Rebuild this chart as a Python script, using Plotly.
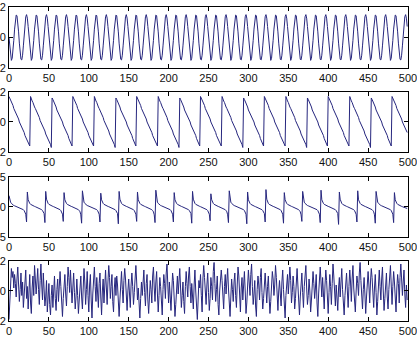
import plotly.graph_objects as go

# ---------------- data ----------------
x_vals = list(range(500))

sine_values = [
    0.00, -0.72, -1.27, -1.50, -1.36, -0.88, -0.19, 0.55, 1.16, 1.47, 1.43, 1.03, 0.37, -0.37, -1.03, -1.43, -1.47, -1.16, -0.55, 0.19, 0.88, 1.36, 1.50, 1.27, 0.72,
    0.00, -0.72, -1.27, -1.50, -1.36, -0.88, -0.19, 0.55, 1.16, 1.47, 1.43, 1.03, 0.37, -0.37, -1.03, -1.43, -1.47, -1.16, -0.55, 0.19, 0.88, 1.36, 1.50, 1.27, 0.72,
    0.00, -0.72, -1.27, -1.50, -1.36, -0.88, -0.19, 0.55, 1.16, 1.47, 1.43, 1.03, 0.37, -0.37, -1.03, -1.43, -1.47, -1.16, -0.55, 0.19, 0.88, 1.36, 1.50, 1.27, 0.72,
    0.00, -0.72, -1.27, -1.50, -1.36, -0.88, -0.19, 0.55, 1.16, 1.47, 1.43, 1.03, 0.37, -0.37, -1.03, -1.43, -1.47, -1.16, -0.55, 0.19, 0.88, 1.36, 1.50, 1.27, 0.72,
    0.00, -0.72, -1.27, -1.50, -1.36, -0.88, -0.19, 0.55, 1.16, 1.47, 1.43, 1.03, 0.37, -0.37, -1.03, -1.43, -1.47, -1.16, -0.55, 0.19, 0.88, 1.36, 1.50, 1.27, 0.72,
    0.00, -0.72, -1.27, -1.50, -1.36, -0.88, -0.19, 0.55, 1.16, 1.47, 1.43, 1.03, 0.37, -0.37, -1.03, -1.43, -1.47, -1.16, -0.55, 0.19, 0.88, 1.36, 1.50, 1.27, 0.72,
    0.00, -0.72, -1.27, -1.50, -1.36, -0.88, -0.19, 0.55, 1.16, 1.47, 1.43, 1.03, 0.37, -0.37, -1.03, -1.43, -1.47, -1.16, -0.55, 0.19, 0.88, 1.36, 1.50, 1.27, 0.72,
    0.00, -0.72, -1.27, -1.50, -1.36, -0.88, -0.19, 0.55, 1.16, 1.47, 1.43, 1.03, 0.37, -0.37, -1.03, -1.43, -1.47, -1.16, -0.55, 0.19, 0.88, 1.36, 1.50, 1.27, 0.72,
    0.00, -0.72, -1.27, -1.50, -1.36, -0.88, -0.19, 0.55, 1.16, 1.47, 1.43, 1.03, 0.37, -0.37, -1.03, -1.43, -1.47, -1.16, -0.55, 0.19, 0.88, 1.36, 1.50, 1.27, 0.72,
    0.00, -0.72, -1.27, -1.50, -1.36, -0.88, -0.19, 0.55, 1.16, 1.47, 1.43, 1.03, 0.37, -0.37, -1.03, -1.43, -1.47, -1.16, -0.55, 0.19, 0.88, 1.36, 1.50, 1.27, 0.72,
    0.00, -0.72, -1.27, -1.50, -1.36, -0.88, -0.19, 0.55, 1.16, 1.47, 1.43, 1.03, 0.37, -0.37, -1.03, -1.43, -1.47, -1.16, -0.55, 0.19, 0.88, 1.36, 1.50, 1.27, 0.72,
    0.00, -0.72, -1.27, -1.50, -1.36, -0.88, -0.19, 0.55, 1.16, 1.47, 1.43, 1.03, 0.37, -0.37, -1.03, -1.43, -1.47, -1.16, -0.55, 0.19, 0.88, 1.36, 1.50, 1.27, 0.72,
    0.00, -0.72, -1.27, -1.50, -1.36, -0.88, -0.19, 0.55, 1.16, 1.47, 1.43, 1.03, 0.37, -0.37, -1.03, -1.43, -1.47, -1.16, -0.55, 0.19, 0.88, 1.36, 1.50, 1.27, 0.72,
    0.00, -0.72, -1.27, -1.50, -1.36, -0.88, -0.19, 0.55, 1.16, 1.47, 1.43, 1.03, 0.37, -0.37, -1.03, -1.43, -1.47, -1.16, -0.55, 0.19, 0.88, 1.36, 1.50, 1.27, 0.72,
    0.00, -0.72, -1.27, -1.50, -1.36, -0.88, -0.19, 0.55, 1.16, 1.47, 1.43, 1.03, 0.37, -0.37, -1.03, -1.43, -1.47, -1.16, -0.55, 0.19, 0.88, 1.36, 1.50, 1.27, 0.72,
    0.00, -0.72, -1.27, -1.50, -1.36, -0.88, -0.19, 0.55, 1.16, 1.47, 1.43, 1.03, 0.37, -0.37, -1.03, -1.43, -1.47, -1.16, -0.55, 0.19, 0.88, 1.36, 1.50, 1.27, 0.72,
    0.00, -0.72, -1.27, -1.50, -1.36, -0.88, -0.19, 0.55, 1.16, 1.47, 1.43, 1.03, 0.37, -0.37, -1.03, -1.43, -1.47, -1.16, -0.55, 0.19, 0.88, 1.36, 1.50, 1.27, 0.72,
    0.00, -0.72, -1.27, -1.50, -1.36, -0.88, -0.19, 0.55, 1.16, 1.47, 1.43, 1.03, 0.37, -0.37, -1.03, -1.43, -1.47, -1.16, -0.55, 0.19, 0.88, 1.36, 1.50, 1.27, 0.72,
    0.00, -0.72, -1.27, -1.50, -1.36, -0.88, -0.19, 0.55, 1.16, 1.47, 1.43, 1.03, 0.37, -0.37, -1.03, -1.43, -1.47, -1.16, -0.55, 0.19, 0.88, 1.36, 1.50, 1.27, 0.72,
    0.00, -0.72, -1.27, -1.50, -1.36, -0.88, -0.19, 0.55, 1.16, 1.47, 1.43, 1.03, 0.37, -0.37, -1.03, -1.43, -1.47, -1.16, -0.55, 0.19, 0.88, 1.36, 1.50, 1.27, 0.72,
]

sawtooth_values = [
    1.7, 1.6, 1.4, 1.3, 1.2, 1.1, 0.9, 0.8, 0.7, 0.6, 0.4, 0.3, 0.2, 0.0, -0.1, -0.2, -0.3, -0.5, -0.6, -0.7, -0.9, -1.0, -1.1, -1.2, -1.4, -1.5, -1.6,
    1.7, 1.5, 1.4, 1.3, 1.1, 1.0, 0.9, 0.8, 0.6, 0.5, 0.4, 0.3, 0.1, 0.0, -0.1, -0.3, -0.4, -0.5, -0.6, -0.8, -0.9, -1.0, -1.1, -1.3, -1.4, -1.5, -1.7,
    1.6, 1.5, 1.4, 1.2, 1.1, 1.0, 0.8, 0.7, 0.6, 0.5, 0.3, 0.2, 0.1, 0.0, -0.2, -0.3, -0.4, -0.6, -0.7, -0.8, -0.9, -1.1, -1.2, -1.3, -1.4, -1.6,
    1.7, 1.6, 1.4, 1.3, 1.2, 1.1, 0.9, 0.8, 0.7, 0.6, 0.4, 0.3, 0.2, 0.0, -0.1, -0.2, -0.3, -0.5, -0.6, -0.7, -0.9, -1.0, -1.1, -1.2, -1.4, -1.5, -1.6,
    1.7, 1.5, 1.4, 1.3, 1.1, 1.0, 0.9, 0.8, 0.6, 0.5, 0.4, 0.3, 0.1, 0.0, -0.1, -0.3, -0.4, -0.5, -0.6, -0.8, -0.9, -1.0, -1.1, -1.3, -1.4, -1.5, -1.7,
    1.6, 1.5, 1.4, 1.2, 1.1, 1.0, 0.8, 0.7, 0.6, 0.5, 0.3, 0.2, 0.1, 0.0, -0.2, -0.3, -0.4, -0.6, -0.7, -0.8, -0.9, -1.1, -1.2, -1.3, -1.4, -1.6,
    1.7, 1.6, 1.4, 1.3, 1.2, 1.1, 0.9, 0.8, 0.7, 0.6, 0.4, 0.3, 0.2, 0.0, -0.1, -0.2, -0.3, -0.5, -0.6, -0.7, -0.9, -1.0, -1.1, -1.2, -1.4, -1.5, -1.6,
    1.7, 1.5, 1.4, 1.3, 1.1, 1.0, 0.9, 0.8, 0.6, 0.5, 0.4, 0.3, 0.1, 0.0, -0.1, -0.3, -0.4, -0.5, -0.6, -0.8, -0.9, -1.0, -1.1, -1.3, -1.4, -1.5, -1.7,
    1.6, 1.5, 1.4, 1.2, 1.1, 1.0, 0.8, 0.7, 0.6, 0.5, 0.3, 0.2, 0.1, 0.0, -0.2, -0.3, -0.4, -0.6, -0.7, -0.8, -0.9, -1.1, -1.2, -1.3, -1.4, -1.6,
    1.7, 1.6, 1.4, 1.3, 1.2, 1.1, 0.9, 0.8, 0.7, 0.6, 0.4, 0.3, 0.2, 0.0, -0.1, -0.2, -0.3, -0.5, -0.6, -0.7, -0.9, -1.0, -1.1, -1.2, -1.4, -1.5, -1.6,
    1.7, 1.5, 1.4, 1.3, 1.1, 1.0, 0.9, 0.8, 0.6, 0.5, 0.4, 0.3, 0.1, 0.0, -0.1, -0.3, -0.4, -0.5, -0.6, -0.8, -0.9, -1.0, -1.1, -1.3, -1.4, -1.5, -1.7,
    1.6, 1.5, 1.4, 1.2, 1.1, 1.0, 0.8, 0.7, 0.6, 0.5, 0.3, 0.2, 0.1, 0.0, -0.2, -0.3, -0.4, -0.6, -0.7, -0.8, -0.9, -1.1, -1.2, -1.3, -1.4, -1.6,
    1.7, 1.6, 1.4, 1.3, 1.2, 1.1, 0.9, 0.8, 0.7, 0.6, 0.4, 0.3, 0.2, 0.0, -0.1, -0.2, -0.3, -0.5, -0.6, -0.7, -0.9, -1.0, -1.1, -1.2, -1.4, -1.5, -1.6,
    1.7, 1.5, 1.4, 1.3, 1.1, 1.0, 0.9, 0.8, 0.6, 0.5, 0.4, 0.3, 0.1, 0.0, -0.1, -0.3, -0.4, -0.5, -0.6, -0.8, -0.9, -1.0, -1.1, -1.3, -1.4, -1.5, -1.7,
    1.6, 1.5, 1.4, 1.2, 1.1, 1.0, 0.8, 0.7, 0.6, 0.5, 0.3, 0.2, 0.1, 0.0, -0.2, -0.3, -0.4, -0.6, -0.7, -0.8, -0.9, -1.1, -1.2, -1.3, -1.4, -1.6,
    1.7, 1.6, 1.4, 1.3, 1.2, 1.1, 0.9, 0.8, 0.7, 0.6, 0.4, 0.3, 0.2, 0.0, -0.1, -0.2, -0.3, -0.5, -0.6, -0.7, -0.9, -1.0, -1.1, -1.2, -1.4, -1.5, -1.6,
    1.7, 1.5, 1.4, 1.3, 1.1, 1.0, 0.9, 0.8, 0.6, 0.5, 0.4, 0.3, 0.1, 0.0, -0.1, -0.3, -0.4, -0.5, -0.6, -0.8, -0.9, -1.0, -1.1, -1.3, -1.4, -1.5, -1.7,
    1.6, 1.5, 1.4, 1.2, 1.1, 1.0, 0.8, 0.7, 0.6, 0.5, 0.3, 0.2, 0.1, 0.0, -0.2, -0.3, -0.4, -0.6, -0.7, -0.8, -0.9, -1.1, -1.2, -1.3, -1.4, -1.6,
    1.7, 1.6, 1.4, 1.3, 1.2, 1.1, 0.9, 0.8, 0.7, 0.6, 0.4, 0.3, 0.2, 0.0, -0.1, -0.2, -0.3, -0.5, -0.6, -0.7,
]

spike_values = [
    1.9, 1.1, 0.8, 0.6, 0.45, 0.35, 0.25, 0.2, 0.15, 0.1, 0.05, 0.0, -0.05, -0.1, -0.15, -0.2, -0.25, -0.35, -0.45, -0.6, -0.8, -1.2, -2.5,
    2.5, 1.2, 0.8, 0.6, 0.45, 0.35, 0.25, 0.2, 0.15, 0.1, 0.05, 0.0, -0.05, -0.1, -0.15, -0.2, -0.25, -0.35, -0.45, -0.6, -0.8, -1.1, -2.6,
    2.6, 1.3, 0.8, 0.6, 0.45, 0.35, 0.25, 0.2, 0.15, 0.1, 0.05, 0.0, -0.05, -0.1, -0.15, -0.2, -0.25, -0.35, -0.45, -0.6, -0.8, -1.2, -2.4,
    2.4, 1.2, 0.8, 0.6, 0.45, 0.35, 0.25, 0.2, 0.15, 0.1, 0.05, 0.0, -0.05, -0.1, -0.15, -0.2, -0.25, -0.35, -0.45, -0.6, -0.8, -1.3, -2.7,
    2.7, 1.1, 0.8, 0.6, 0.45, 0.35, 0.25, 0.2, 0.15, 0.1, 0.05, 0.0, -0.05, -0.1, -0.15, -0.2, -0.25, -0.35, -0.45, -0.6, -0.8, -1.2, -2.5,
    2.3, 1.2, 0.8, 0.6, 0.45, 0.35, 0.25, 0.2, 0.15, 0.1, 0.05, 0.0, -0.05, -0.1, -0.15, -0.2, -0.25, -0.35, -0.45, -0.6, -0.8, -1.1, -2.8,
    2.6, 1.3, 0.8, 0.6, 0.45, 0.35, 0.25, 0.2, 0.15, 0.1, 0.05, 0.0, -0.05, -0.1, -0.15, -0.2, -0.25, -0.35, -0.45, -0.6, -0.8, -1.2, -2.4,
    2.5, 1.2, 0.8, 0.6, 0.45, 0.35, 0.25, 0.2, 0.15, 0.1, 0.05, 0.0, -0.05, -0.1, -0.15, -0.2, -0.25, -0.35, -0.45, -0.6, -0.8, -1.3, -2.6,
    2.8, 1.1, 0.8, 0.6, 0.45, 0.35, 0.25, 0.2, 0.15, 0.1, 0.05, 0.0, -0.05, -0.1, -0.15, -0.2, -0.25, -0.35, -0.45, -0.6, -0.8, -1.2, -2.5,
    2.4, 1.2, 0.8, 0.6, 0.45, 0.35, 0.25, 0.2, 0.15, 0.1, 0.05, 0.0, -0.05, -0.1, -0.15, -0.2, -0.25, -0.35, -0.45, -0.6, -0.8, -1.1, -2.7,
    2.6, 1.3, 0.8, 0.6, 0.45, 0.35, 0.25, 0.2, 0.15, 0.1, 0.05, 0.0, -0.05, -0.1, -0.15, -0.2, -0.25, -0.35, -0.45, -0.6, -0.8, -1.2, -2.3,
    2.2, 1.2, 0.8, 0.6, 0.45, 0.35, 0.25, 0.2, 0.15, 0.1, 0.05, 0.0, -0.05, -0.1, -0.15, -0.2, -0.25, -0.35, -0.45, -0.6, -0.8, -1.3, -2.6,
    2.7, 1.1, 0.8, 0.6, 0.45, 0.35, 0.25, 0.2, 0.15, 0.1, 0.05, 0.0, -0.05, -0.1, -0.15, -0.2, -0.25, -0.35, -0.45, -0.6, -0.8, -1.2, -2.8,
    2.5, 1.2, 0.8, 0.6, 0.45, 0.35, 0.25, 0.2, 0.15, 0.1, 0.05, 0.0, -0.05, -0.1, -0.15, -0.2, -0.25, -0.35, -0.45, -0.6, -0.8, -1.1, -2.5,
    2.9, 1.3, 0.8, 0.6, 0.45, 0.35, 0.25, 0.2, 0.15, 0.1, 0.05, 0.0, -0.05, -0.1, -0.15, -0.2, -0.25, -0.35, -0.45, -0.6, -0.8, -1.2, -2.7,
    2.4, 1.2, 0.8, 0.6, 0.45, 0.35, 0.25, 0.2, 0.15, 0.1, 0.05, 0.0, -0.05, -0.1, -0.15, -0.2, -0.25, -0.35, -0.45, -0.6, -0.8, -1.3, -2.4,
    2.6, 1.1, 0.8, 0.6, 0.45, 0.35, 0.25, 0.2, 0.15, 0.1, 0.05, 0.0, -0.05, -0.1, -0.15, -0.2, -0.25, -0.35, -0.45, -0.6, -0.8, -1.2, -2.6,
    2.8, 1.2, 0.8, 0.6, 0.45, 0.35, 0.25, 0.2, 0.15, 0.1, 0.05, 0.0, -0.05, -0.1, -0.15, -0.2, -0.25, -0.35, -0.45, -0.6, -0.8, -1.1, -2.9,
    2.5, 1.3, 0.8, 0.6, 0.45, 0.35, 0.25, 0.2, 0.15, 0.1, 0.05, 0.0, -0.05, -0.1, -0.15, -0.2, -0.25, -0.35, -0.45, -0.6, -0.8, -1.2, -2.5,
    2.7, 1.2, 0.8, 0.6, 0.45, 0.35, 0.25, 0.2, 0.15, 0.1, 0.05, 0.0, -0.05, -0.1, -0.15, -0.2, -0.25, -0.35, -0.45, -0.6, -0.8, -1.3, -2.7,
    2.6, 1.1, 0.8, 0.6, 0.45, 0.35, 0.25, 0.2, 0.15, 0.1, 0.05, 0.0, -0.05, -0.1, -0.15, -0.2, -0.25, -0.35, -0.45, -0.6, -0.8, -1.2, -2.6,
    2.4, 1.2, 0.8, 0.6, 0.45, 0.35, 0.25, 0.2, 0.15, 0.1, 0.05, 0.0, -0.05, -0.1, -0.15, -0.2, -0.25,
]

noise_values = [
    -1.9, -0.6, 0.3, 1.5, 0.9, 1.3, 0.2, 1.1, 0.5, -0.4, 0.8, 1.6, 0.4, -0.7, 0.1, 1.2, -0.3, 0.6, -1.1, -0.2, 0.9, 1.4, -0.5, 0.3, -1.2,
    0.5, 1.1, -0.8, -1.5, 0.2, 1.0, -0.3, 1.7, 0.8, -0.2, 0.6, 1.5, 0.1, -0.9, 0.7, 1.8, 0.4, -0.6, 1.2, 0.0, -1.0, -0.4, 0.7, -1.4, -0.6,
    0.5, -0.9, -1.6, -0.3, 0.4, -1.1, 0.2, 1.0, -0.5, -1.3, 0.1, 0.8, -0.7, 0.6, 1.3, 0.3, -0.9, -1.7, -0.5, 0.7, 1.1, -0.2, -1.0, 0.3, 1.6,
    0.9, -0.1, 1.4, 0.5, -0.8, 0.2, 1.2, -0.1, -1.2, -0.4, 0.8, -0.3, -1.5, -0.6, 0.5, 1.0, -0.4, -1.2, 0.2, 1.5, 0.6, -0.9, 0.1, 1.3, -0.3,
    -1.4, 0.4, 1.1, -0.6, -1.8, -0.2, 0.7, 1.6, 0.3, -0.7, 0.9, -0.1, -1.1, 0.5, 1.2, -0.4, -1.6, 0.0, 0.8, -0.8, 0.4, 1.4, 0.2, -0.9, 0.6,
    1.7, 0.9, -0.5, 0.3, 1.1, -0.7, -1.4, 0.2, 0.9, -0.3, 1.0, 0.4, -1.0, -1.7, -0.6, 0.5, 1.3, 0.1, -0.8, 0.7, 1.5, 0.8, -0.4, -1.3, 0.0,
    0.8, -0.2, -1.1, 0.4, 1.2, 0.3, -0.9, -0.1, 1.0, 1.7, 0.6, -0.6, 0.2, -1.2, -1.8, -0.5, 0.6, -0.3, 0.9, 1.4, -0.1, -1.0, 0.5, 1.1, -0.6,
    -1.5, -0.4, 0.7, 0.1, -0.8, 1.0, 1.6, 0.2, -0.7, 0.6, 1.3, -0.2, -1.4, -0.3, 0.9, 0.3, -0.9, -1.6, 0.1, 1.1, 0.5, -0.5, 1.2, 1.8, 0.4,
    -0.8, 0.6, -0.4, -1.3, 0.0, 1.2, 0.7, -0.6, -1.7, -0.9, 0.4, 1.0, -0.2, 0.8, 1.5, 0.2, -1.1, -0.3, 0.6, -0.7, -1.5, 0.3, 1.3, 0.5, -0.4,
    1.0, 1.6, 0.3, -0.8, 0.5, -0.5, -1.2, 0.4, 1.4, 0.0, -1.0, -1.9, -0.6, 0.7, 0.2, 1.1, -0.3, -1.4, 0.8, 1.7, 0.9, -0.2, -0.9, 0.4, 1.2,
    -0.1, -1.3, -0.5, 0.9, 0.3, -0.6, 1.3, 1.9, 0.5, -0.7, 0.1, 1.0, -0.9, -1.6, 0.0, 0.6, 1.4, 0.7, -0.4, -1.2, 0.3, 1.1, -0.2, 0.5, 1.5,
    0.2, -1.0, -1.7, -0.4, 0.8, 0.1, -0.7, 0.6, 1.2, -0.3, -1.1, 0.4, 1.6, 1.0, -0.5, -1.4, 0.2, 0.9, -0.6, 0.7, 1.3, 0.0, -1.5, -0.8, 0.5,
    1.4, 0.6, -0.3, 1.1, 1.8, 0.3, -0.9, -0.2, 0.7, -1.0, -1.7, 0.1, 1.0, 0.4, -0.6, 0.9, 1.5, -0.1, -1.2, -0.5, 0.6, 1.2, 0.2, -0.8, 0.3,
    1.0, -0.4, -1.5, -0.7, 0.5, 1.3, 0.8, -0.3, 0.4, 1.7, 0.9, -0.6, -1.3, 0.0, 0.7, -0.2, -1.0, 0.6, 1.4, 0.1, -0.9, -1.8, -0.3, 0.8, 1.1,
    -0.2, 0.5, 1.6, 0.7, -0.8, -0.1, 1.0, 0.3, -1.2, -0.5, 0.9, 1.5, 0.4, -0.7, -1.6, -0.4, 0.6, 1.2, -0.1, -1.1, 0.3, 1.0, 1.7, 0.2, -0.9,
    -0.3, 0.8, 0.0, -1.4, -0.6, 0.7, 1.3, 0.5, -0.5, 0.2, 1.1, -0.8, -1.7, -0.2, 1.0, 1.6, 0.6, -0.4, 0.9, -0.3, -1.2, 0.4, 1.4, 0.7, -0.6,
    -1.5, -0.1, 1.1, 0.3, -0.9, 0.5, 1.8, 1.0, -0.2, -1.0, 0.4, -0.5, -1.3, 0.2, 0.9, -0.4, 0.7, 1.5, 0.1, -0.8, -1.6, -0.3, 0.6, 1.2, 0.0,
    -1.1, 0.3, 1.4, 0.6, -0.7, 0.8, 1.7, 0.2, -0.6, -1.4, 0.0, 1.0, 0.5, -0.3, 1.2, 1.9, 0.7, -0.5, -1.2, 0.1, 0.9, -0.2, -1.5, -0.4, 0.8,
    1.3, 0.4, -0.8, 0.6, 1.5, 0.9, -0.3, -1.1, 0.2, 1.1, -0.1, -1.6, -0.7, 0.5, 1.4, 0.3, -0.6, 0.8, 1.6, 0.0, -1.3, -0.5, 0.7, 1.2, -0.4,
    -1.2, 0.1, 1.0, 1.7, 0.4, -0.9, 0.3, 1.3, 0.6, -0.5, -1.4, 0.2, 1.1, 0.5, -0.8, 0.9, 1.8, 0.8, -0.3, 0.6, 1.4, -0.2, -1.1, 0.4, -0.6,
]

x_tick_values = [0, 50, 100, 150, 200, 250, 300, 350, 400, 450, 500]
y_ticks_small = [-2, 0, 2]
y_ticks_large = [-5, 0, 5]
y_range_small = [-2, 2]
y_range_large = [-5, 5]

# ---------------- figure ----------------
panels = [
    (sine_values, y_range_small, y_ticks_small, [0.8057, 1.0]),
    (sawtooth_values, y_range_small, y_ticks_small, [0.5382, 0.7293]),
    (spike_values, y_range_large, y_ticks_large, [0.2675, 0.4586]),
    (noise_values, y_range_small, y_ticks_small, [0.0, 0.1911]),
]

line_color = "#26267e"
font = dict(family="Liberation Sans, Arial, sans-serif", size=11, color="#111111")

fig = go.Figure()
layout = dict(
    width=417, height=350,
    margin=dict(l=9, r=9, t=7, b=29, pad=0),
    paper_bgcolor="white", plot_bgcolor="white",
    showlegend=False, template="none", font=font,
)

for i, (vals, yr, yt, dom) in enumerate(panels):
    n = "" if i == 0 else str(i + 1)
    fig.add_trace(go.Scatter(
        x=x_vals, y=vals, mode="lines",
        line=dict(color=line_color, width=1),
        xaxis="x" + n, yaxis="y" + n, hoverinfo="skip",
    ))
    common = dict(
        showline=True, linecolor="black", linewidth=1, mirror="ticks",
        ticks="inside", ticklen=4, tickwidth=1, tickcolor="black",
        showgrid=False, zeroline=False, automargin=False, tickfont=font,
        ticklabeloverflow="allow",
    )
    layout["xaxis" + n] = dict(
        domain=[0, 1], range=[0, 500], tickmode="array", tickvals=x_tick_values,
        anchor="y" + n, **common,
    )
    layout["yaxis" + n] = dict(
        domain=dom, range=yr, tickmode="array", tickvals=yt,
        anchor="x" + n, **common,
    )

fig.update_layout(**layout)
fig.write_html("out.html")
